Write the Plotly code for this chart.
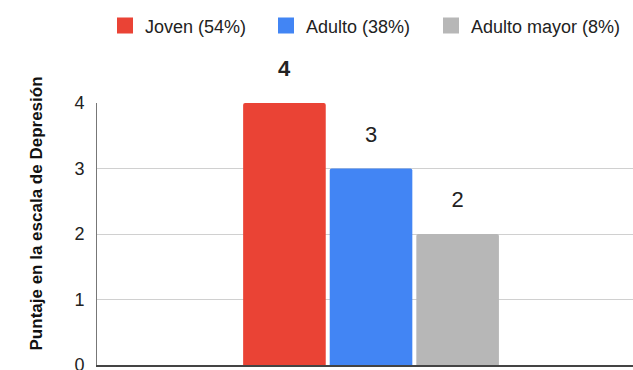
import plotly.graph_objects as go

categories = [""]
series_names = ["Joven (54%)", "Adulto (38%)", "Adulto mayor (8%)"]
series_values = [[4], [3], [2]]
series_colors = ["#EA4335", "#4285F4", "#B7B7B7"]
label_bold = [True, False, False]
y_ticks = [0, 1, 2, 3, 4]
y_title = "Puntaje en la escala de Depresión"

FONT = "'Liberation Sans', Arial, sans-serif"
legend_ids = ["legend", "legend2", "legend3"]
legend_x = [105, 266, 431]

fig = go.Figure()
for name, vals, col, bold in zip(series_names, series_values, series_colors, label_bold):
    txt = []
    for v in vals:
        s = f"<b>{v}</b>" if bold else f"{v}"
        txt.append(f"<span style='font-size:22px'>{s}</span><br> ")
    fig.add_trace(go.Bar(
        x=categories, y=vals, name=name, marker=dict(color=col, line=dict(width=0), cornerradius=2),
        text=txt, textposition="outside", cliponaxis=False,
        textfont=dict(family=FONT, size=16, color="#222222"),
        showlegend=False, hoverinfo="skip",
    ))
for name, col, lid in zip(series_names, series_colors, legend_ids):
    fig.add_trace(go.Scatter(
        x=[None], y=[None], mode="markers", name=name, legend=lid,
        marker=dict(symbol="square", size=16, color=col),
    ))

layout_legends = {}
for lid, lx in zip(legend_ids, legend_x):
    layout_legends[lid] = dict(orientation="h", x=lx / 633, xref="container", xanchor="left",
                               y=0.93, yanchor="middle", yref="container",
                               font=dict(family=FONT, size=18, color="#222222"),
                               bgcolor="rgba(0,0,0,0)")

fig.update_layout(
    width=633, height=370,
    margin=dict(l=97, r=0, t=103, b=5),
    paper_bgcolor="white", plot_bgcolor="white",
    barmode="group", bargap=0.526, bargroupgap=0.046,
    font=dict(family=FONT, size=18, color="#222222"),
    showlegend=True,
    xaxis=dict(range=[-0.5, 0.478], showticklabels=False, showgrid=False, automargin=False,
               showline=True, linecolor="#444444", linewidth=2, zeroline=False, fixedrange=True),
    yaxis=dict(range=[0, 4], tickvals=y_ticks, showgrid=True, gridcolor="#D0D0D0", gridwidth=1,
               showline=True, linecolor="#777777", linewidth=1, zeroline=False, automargin=False,
               tickfont=dict(family=FONT, size=18, color="#222222"), ticklabelstandoff=8,
               ticklabeloverflow="allow"),
    annotations=[dict(text=f"<b>{y_title}</b>", textangle=-90, xref="paper", yref="paper",
                      x=-0.113, y=0.58, xanchor="center", yanchor="middle", showarrow=False,
                      font=dict(family=FONT, size=17, color="#111111"))],
    **layout_legends,
)

fig.write_html("out.html")
